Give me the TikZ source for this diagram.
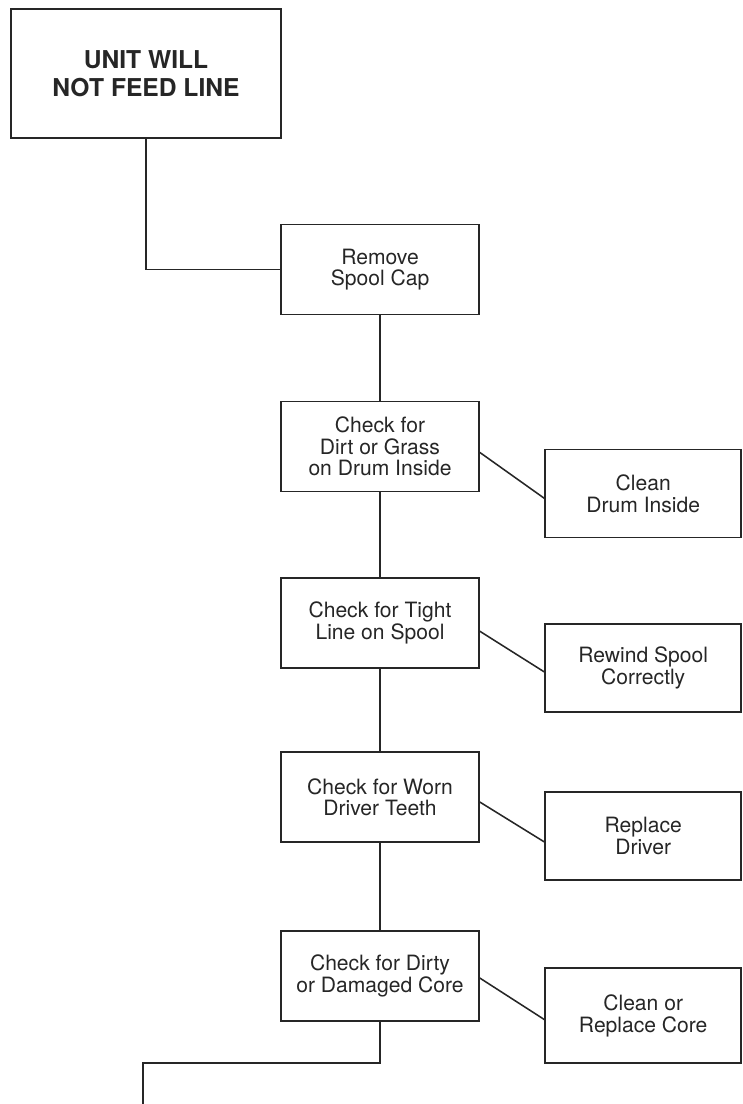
\documentclass[tikz,border=0pt]{standalone}
\usepackage{fontspec}
\setmainfont{TeX Gyre Heros}

\begin{document}
\begin{tikzpicture}[line width=1.1pt, color=black!85,
        check/.style={draw, minimum width=4.95cm, minimum height=2.25cm, align=center,
            font=\fontsize{15}{15.5}\selectfont},
        fix/.style={draw, minimum width=4.9cm, minimum height=2.2cm, align=center,
            font=\fontsize{15}{15.5}\selectfont}]
        \useasboundingbox (0,0) rectangle (18.55,-27.6);

        \node[draw, minimum width=6.75cm, minimum height=3.225cm, align=center,
            font=\fontsize{17.5}{19.5}\selectfont\bfseries] (unit) at (3.65,-1.84) {UNIT WILL\\NOT FEED LINE};

        \node[check] (remove) at (9.5,-6.74) {Remove\\Spool Cap};
        \node[check] (dirt) at (9.5,-11.16) {Check for\\Dirt or Grass\\on Drum Inside};
        \node[check] (tight) at (9.5,-15.58) {Check for Tight\\Line on Spool};
        \node[check] (worn) at (9.5,-19.93) {Check for Worn\\Driver Teeth};
        \node[check] (dirty) at (9.5,-24.4) {Check for Dirty\\or Damaged Core};

        \node[fix] (clean) at (16.08,-12.34) {Clean\\Drum Inside};
        \node[fix] (rewind) at (16.08,-16.7) {Rewind Spool\\Correctly};
        \node[fix] (driver) at (16.08,-20.9) {Replace\\Driver};
        \node[fix, minimum height=2.375cm] (core) at (16.08,-25.39) {Clean or\\Replace Core};

        \coordinate (bend) at (9.5,-26.58);
        \coordinate (next) at (3.57,-27.6);

        \draw[-] (unit) |- (remove);
        \draw[-] (remove) -- (dirt);
        \draw[-] (dirt) -- (tight);
        \draw[-] (tight) -- (worn);
        \draw[-] (worn) -- (dirty);
        \draw[-] (dirty) -- (bend) -| (next);

        \draw[-] ([yshift=-0.15cm]dirt.east) -- ([yshift=-0.12cm]clean.west);
        \draw[-] ([yshift=-0.2cm]tight.east) -- ([yshift=-0.1cm]rewind.west);
        \draw[-] ([yshift=-0.12cm]worn.east) -- ([yshift=-0.15cm]driver.west);
        \draw[-] ([yshift=-0.05cm]dirty.east) -- ([yshift=-0.1cm]core.west);
    \end{tikzpicture}
\end{document}
